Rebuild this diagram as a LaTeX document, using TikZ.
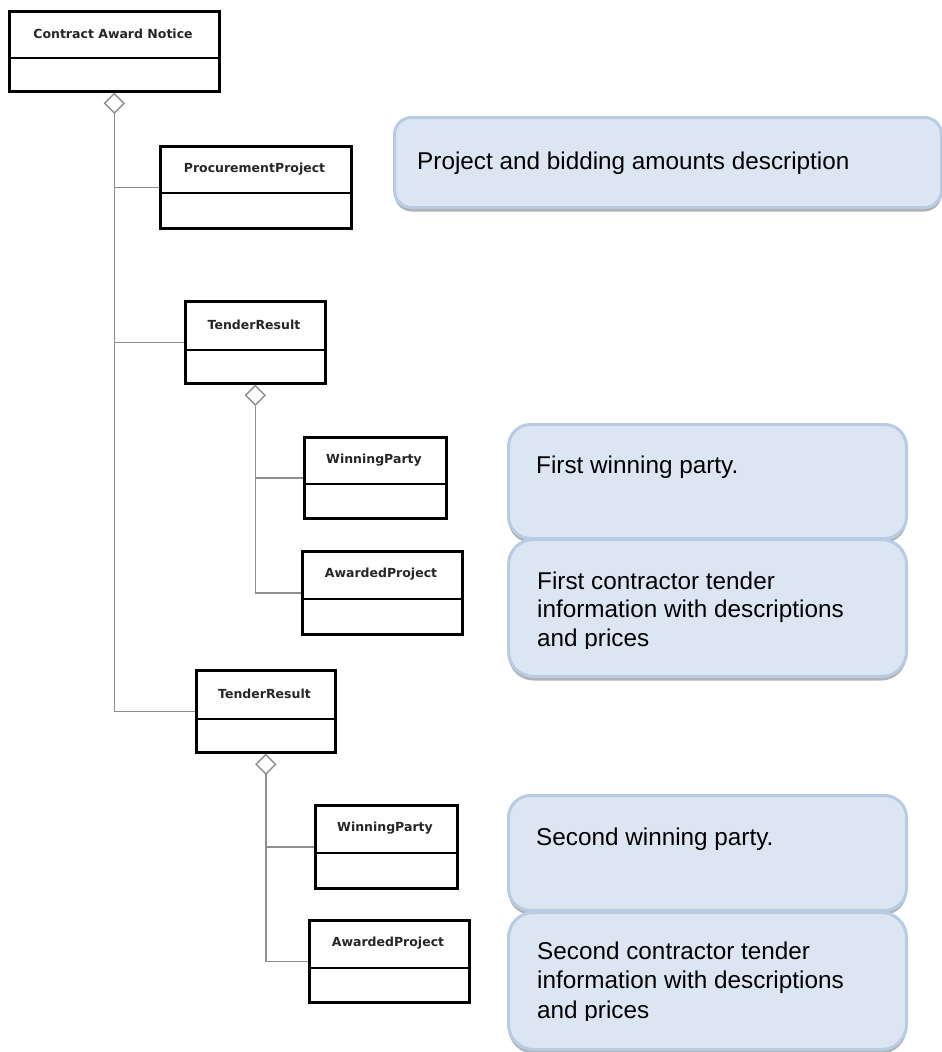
\documentclass[tikz,border=0pt]{standalone}
\usepackage{fontspec}
\setmainfont{Liberation Sans}
\newfontfamily\umlfont{DejaVu Sans}
\usetikzlibrary{shapes.geometric,shadows}

\definecolor{notefill}{HTML}{DCE6F2}
\definecolor{noteedge}{HTML}{B7CBE4}
\definecolor{conngray}{HTML}{8E8E8E}

\tikzset{
  classbox/.style={draw=black, line width=2.6pt, fill=white, inner sep=0pt, anchor=north west},
  classtitle/.style={font=\umlfont\bfseries\fontsize{12.5}{15}\selectfont, text=black!85, inner sep=0pt},
  classsplit/.style={line width=2.6pt},
  conn/.style={draw=conngray, line width=1.6pt},
  aggr/.style={diamond, draw=conngray, line width=1.4pt, fill=white, inner sep=0pt,
    minimum width=20pt, minimum height=20pt, anchor=north},
  notebox/.style={draw=noteedge, line width=3pt, fill=notefill, anchor=north west, inner sep=0pt,
    drop shadow={shadow xshift=0pt, shadow yshift=-4pt, fill=black, opacity=0.3}},
  notetext/.style={font=\fontsize{24.3}{28.5}\selectfont, align=left, anchor=base west, inner sep=0pt},
}

% UML class: name, left, top, right, bottom, split line, title
\newcommand{\umlclass}[7]{%
  \node[classbox, minimum width={(#4)-(#2)}, minimum height={(#5)-(#3)}] (#1) at (#2,-#3) {};
  \node[classtitle] (#1-title) at ({((#2)+(#4))/2},{-((#3)+(#6))/2}) {#7};
  \draw[classsplit] (#2,-#6) -- (#4,-#6);
}

% rounded note box: name, left, top, right, bottom, corner radius
\newcommand{\notepanel}[6]{%
  \node[notebox, rounded corners=#6, minimum width={(#4)-(#2)}, minimum height={(#5)-(#3)}] (#1) at (#2,-#3) {};
}

\begin{document}
\begin{tikzpicture}[x=1pt,y=1pt]
\useasboundingbox[fill=white] (0,0) rectangle (942,-1052);

% class boxes
\umlclass{can}{8}{10}{218}{90}{58}{Contract Award Notice}
\umlclass{pp}{159}{145}{350}{227}{193}{ProcurementProject}
\umlclass{tra}{184}{300}{324}{382}{350}{TenderResult}
\umlclass{wpa}{303}{436}{445}{517}{484}{WinningParty}
\umlclass{apa}{301}{550}{461}{633}{599}{AwardedProject}
\umlclass{trb}{195}{669}{334}{751}{719}{TenderResult}
\umlclass{wpb}{314}{804}{456}{887}{853}{WinningParty}
\umlclass{apb}{308}{919}{468}{1001}{968}{AwardedProject}

% aggregation connectors
\path (can.south) ++(0,-20) coordinate (can-foot);
\draw[conn] (can-foot) |- (pp.west);
\draw[conn] (can-foot) |- (tra.west);
\draw[conn] (can-foot) |- (trb.west);
\node[aggr] (can-d) at (can.south) {};

\path (tra.south) ++(0,-20) coordinate (tra-foot);
\draw[conn] (tra-foot) |- (wpa.west);
\draw[conn] (tra-foot) |- (apa.west);
\node[aggr] (tra-d) at (tra.south) {};

\path (trb.south) ++(0,-20) coordinate (trb-foot);
\draw[conn] (trb-foot) |- (wpb.west);
\draw[conn] (trb-foot) |- (apb.west);
\node[aggr] (trb-d) at (trb.south) {};

% description notes
\notepanel{na}{393}{116}{940}{206}{17pt}
\node[notetext] (na-text) at (417,-169) {Project and bidding amounts description};

\notepanel{nb}{507}{423}{905}{537}{22pt}
\node[notetext] (nb-text) at (536,-473) {First winning party.};

\notepanel{nc}{507}{538}{905}{675}{25pt}
\begin{scope}
  \clip (507,-538) rectangle (905,-648);
  \node[notetext] (nc-text) at (537,-646) {First contractor tender\\information with descriptions\\and prices};
\end{scope}

\notepanel{nd}{507}{794}{905}{909}{22pt}
\node[notetext] (nd-text) at (536,-845) {Second winning party.};

\notepanel{ne}{507}{911}{905}{1048}{25pt}
\begin{scope}
  \clip (507,-911) rectangle (905,-1020);
  \node[notetext, font=\fontsize{24.3}{29.5}\selectfont] (ne-text) at (537,-1018) {Second contractor tender\\information with descriptions\\and prices};
\end{scope}
\end{tikzpicture}
\end{document}
